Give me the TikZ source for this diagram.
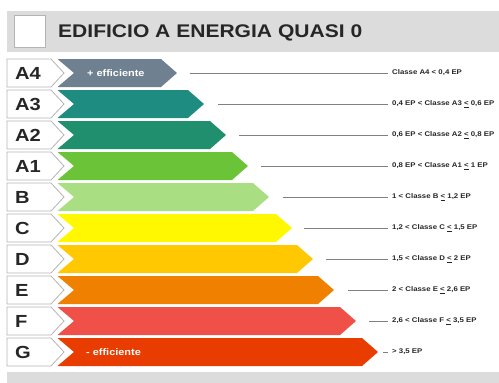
\documentclass[tikz,border=0pt]{standalone}
\usepackage{fontspec}
\setmainfont{Liberation Sans}[FakeStretch=1.15]
\definecolor{cA4}{HTML}{6F8190}
\definecolor{cA3}{HTML}{1E8C80}
\definecolor{cA2}{HTML}{1F8F6E}
\definecolor{cA1}{HTML}{6BC337}
\definecolor{cB}{HTML}{AADE82}
\definecolor{cC}{HTML}{FFF800}
\definecolor{cD}{HTML}{FFC800}
\definecolor{cE}{HTML}{F08000}
\definecolor{cF}{HTML}{EF5048}
\definecolor{cG}{HTML}{E83C00}
\definecolor{band}{HTML}{DCDCDC}
\definecolor{lbl}{HTML}{B4B4B4}
\definecolor{lead}{HTML}{808080}
\tikzset{
  bandbox/.style={fill=band, draw=none},
  lblbox/.style={fill=white, draw=lbl, line width=0.8pt},
  lbltext/.style={anchor=base west, inner sep=0pt, font=\bfseries\fontsize{17.5}{18}\selectfont, text=black!85},
  classtext/.style={anchor=west, inner sep=0pt, font=\bfseries\fontsize{6.8}{7}\selectfont, text=black!85},
  efftext/.style={anchor=west, inner sep=0pt, font=\bfseries\fontsize{9.5}{10}\selectfont, text=white},
  leader/.style={draw=lead, line width=0.8pt}
}
\begin{document}
\begin{tikzpicture}[x=1pt,y=-1pt]
\useasboundingbox (0,0) rectangle (499,383);
% title band
\path[bandbox] (7,10.5) rectangle (499,52);
\path[fill=white, draw=lbl, line width=0.8pt] (14,15) rectangle (45,47);
\node[anchor=base west, inner sep=0pt, font=\bfseries\fontsize{18.3}{20}\selectfont, text=black!85] (title) at (58,37.8) {EDIFICIO A ENERGIA QUASI 0};
% bottom band
\path[bandbox] (7,372) rectangle (499,383);
% rows
\foreach \i/\n/\l/\tip/\ls/\txt in {
  0/A4/A4/177/190/{Classe A4 < 0,4 EP},
  1/A3/A3/204/218/{0,4 EP < Classe A3 \underline{<} 0,6 EP},
  2/A2/A2/226/239/{0,6 EP < Classe A2 \underline{<} 0,8 EP},
  3/A1/A1/248/261/{0,8 EP < Classe A1 \underline{<} 1 EP},
  4/B/B/269/283/{1 < Classe B \underline{<} 1,2 EP},
  5/C/C/292/304/{1,2 < Classe C \underline{<} 1,5 EP},
  6/D/D/313/326/{1,5 < Classe D \underline{<} 2 EP},
  7/E/E/334/348/{2 < Classe E \underline{<} 2,6 EP},
  8/F/F/356/369/{2,6 < Classe F \underline{<} 3,5 EP},
  9/G/G/378/383/{> 3,5 EP}}{
  \pgfmathsetmacro{\top}{59+31*\i}
  \pgfmathsetmacro{\mid}{\top+14}
  \pgfmathsetmacro{\bot}{\top+28}
  \pgfmathsetmacro{\rr}{\tip-16}
  % label box
  \path[lblbox] (7,\top) -- (51,\top) -- (64,\mid) -- (51,\bot) -- (7,\bot) -- cycle;
  \node[lbltext] (lab\n) at (15,\top+20.8) {\l};
  % colored arrow
  \path[fill=c\n] (57.5,\top) -- (\rr,\top) -- (\tip,\mid) -- (\rr,\bot) -- (57.5,\bot) -- (74,\mid) -- cycle;
  % class text and leader
  \node[classtext] (txt\n) at (392,\mid) {\txt};
  \coordinate (ls\n) at (\ls,\mid);
  \draw[leader] (ls\n) -- ([xshift=-4pt]txt\n.west);
}
\node[efftext] (effplus) at (87,73) {+ efficiente};
\node[efftext] (effminus) at (86,352) {- efficiente};
\end{tikzpicture}
\end{document}
